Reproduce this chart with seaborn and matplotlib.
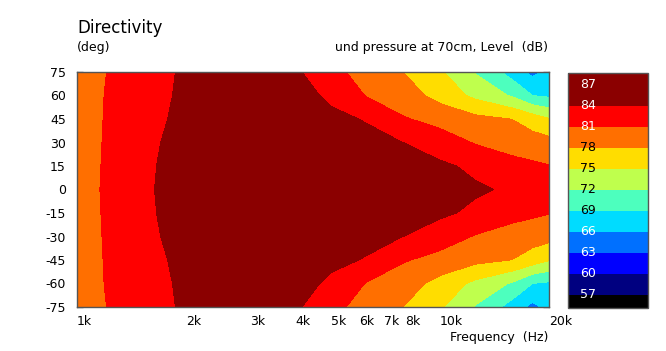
import numpy as np
import matplotlib
matplotlib.use('Agg')
import matplotlib as mpl
import matplotlib.pyplot as plt
import seaborn as sns
from matplotlib.colors import ListedColormap, BoundaryNorm

# grid (symmetric in angle)
freqs = [1000, 1250, 1600, 2000, 2500, 3150, 4000, 5000, 6300, 8000, 10000, 12500, 16000, 18000, 20000]
angles = [0, 15, 30, 45, 60, 75]
spl_0 = [80.0, 81.6, 83.9, 85.0, 86.0, 86.5, 87.0, 87.0, 87.0, 86.5, 85.5, 84.4, 83.5, 83.2, 83.0]
spl_15 = [79.95, 81.55, 83.85, 84.9, 85.8, 86.3, 86.7, 86.7, 86.5, 85.8, 84.5, 83.4, 82.0, 81.5, 81.1]
spl_30 = [79.9, 81.5, 83.8, 84.6, 85.4, 85.8, 85.8, 85.4, 84.8, 83.95, 82.5, 80.8, 79.6, 79.3, 79.0]
spl_45 = [79.85, 81.45, 83.6, 84.5, 85.0, 85.3, 85.0, 84.6, 83.8, 81.2, 80.0, 78.8, 77.9, 76.6, 75.2]
spl_60 = [79.8, 81.4, 83.3, 84.5, 84.9, 85.0, 85.0, 83.5, 80.8, 79.2, 77.0, 74.3, 71.5, 69.0, 68.5]
spl_75 = [79.6, 81.3, 83.2, 84.4, 84.7, 84.8, 84.4, 82.0, 79.5, 77.9, 75.3, 71.8, 67.5, 65.2, 67.0]

levels = [0, 57, 60, 63, 66, 69, 72, 75, 78, 81, 84, 120]
band_colors = ['#000000', '#000080', '#0000ff', '#0070ff', '#00dcff', '#4dffbe',
               '#bfff4d', '#ffdd00', '#ff6f00', '#ff0000', '#8b0000']
cb_ticks = [57, 60, 63, 66, 69, 72, 75, 78, 81, 84, 87]
cb_label_colors = ['white', 'white', 'white', 'white', 'black', 'black',
                   'black', 'black', 'white', 'white', 'white']

x_labels = ['1k', '2k', '3k', '4k', '5k', '6k', '7k', '8k', '10k', '20k']
x_label_pos = [1000, 2000, 3000, 4000, 5000, 6000, 7000, 8000, 10000, 20000]
x_minor = [1500, 2000, 2500, 3000, 3500, 4000, 4500, 5000, 6000, 7000, 8000, 9000, 10000, 15000]
y_ticks = [75, 60, 45, 30, 15, 0, -15, -30, -45, -60, -75]

# mirror the half-plane to -75..75
rows = [spl_75, spl_60, spl_45, spl_30, spl_15, spl_0, spl_15, spl_30, spl_45, spl_60, spl_75]
ang_full = [-75, -60, -45, -30, -15, 0, 15, 30, 45, 60, 75]
Z = np.array(rows)

sns.set_theme(style='white')
plt.rcParams['font.family'] = ['DejaVu Sans']
plt.rcParams['text.color'] = 'black'

W, H = 666, 351
fig = plt.figure(figsize=(W / 100, H / 100), dpi=100)
ax = fig.add_axes([77 / W, 1 - 307 / H, 472 / W, 235 / H])

ax.contourf(freqs, ang_full, Z, levels=levels, colors=band_colors)
ax.set_xscale('log')
ax.set_xlim(1000, 20000)
ax.set_ylim(-75, 75)

ax.set_xticks(x_label_pos)
ax.set_xticklabels(x_labels)
ax.set_xticks(x_minor, minor=True)
ax.tick_params(axis='x', which='major', length=0, pad=6, labelsize=9, labelcolor='black')
ax.tick_params(axis='x', which='minor', direction='in', length=4, width=1,
               color='#666666', top=True, bottom=True, labelbottom=False)
for t in ax.get_xticklabels():
    t.set_ha('left')
ax.set_yticks(y_ticks)
ax.set_yticklabels([str(v) for v in y_ticks])
ax.tick_params(axis='y', direction='in', length=4, width=1, color='#666666',
               left=True, right=True, labelsize=9, pad=8, labelcolor='black')
for s in ax.spines.values():
    s.set_color('#555555')
    s.set_linewidth(1)

# colour scale
cax = fig.add_axes([568 / W, 1 - 308 / H, 80 / W, 235 / H])
bounds = [55.1, 57, 60, 63, 66, 69, 72, 75, 78, 81, 84, 88.7]
norm = BoundaryNorm(bounds, len(band_colors))
sm = mpl.cm.ScalarMappable(norm=norm, cmap=ListedColormap(band_colors))
cb = fig.colorbar(sm, cax=cax, spacing='proportional', ticks=cb_ticks)
cb.outline.set_edgecolor('#555555')
cb.outline.set_linewidth(1)
cax.minorticks_off()
cax.yaxis.set_ticks_position('left')
cax.tick_params(axis='y', which='both', direction='in', length=3, color='#5a8a9a',
                labelleft=False, labelright=False)
for v, c in zip(cb_ticks, cb_label_colors):
    cax.text(0.15, v, str(v), transform=cax.get_yaxis_transform(), color=c,
             fontsize=9, va='center', ha='left')

fig.text(77 / W, 1 - 28 / H, 'Directivity', fontsize=12, va='center', ha='left')
fig.text(77 / W, 1 - 48 / H, '(deg)', fontsize=9, va='center', ha='left')
fig.text(548 / W, 1 - 48 / H, 'und pressure at 70cm, Level  (dB)', fontsize=9, va='center', ha='right')
fig.text(548 / W, 1 - 337 / H, 'Frequency  (Hz)', fontsize=9, va='center', ha='right')

fig.savefig('out.png', dpi=100)
